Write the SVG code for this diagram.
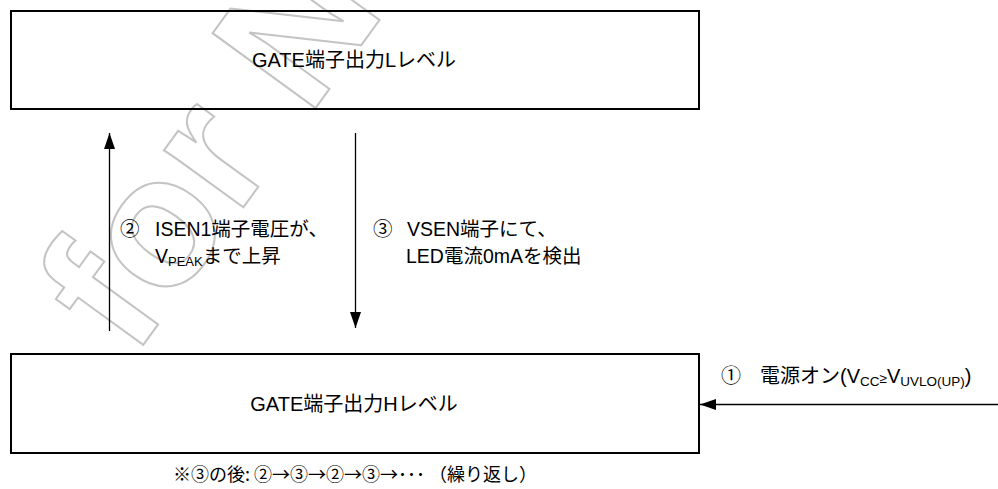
<svg xmlns="http://www.w3.org/2000/svg" width="998" height="489" viewBox="0 0 998 489">
<style>
.bg{fill:#ffffff}
.wm{font-family:"Liberation Sans",Arial,sans-serif;font-weight:bold;font-size:185px;fill:none;stroke:#c4c4c4;stroke-width:2px}
.box{fill:none;stroke:#000;stroke-width:2px}
.t{font-family:"Liberation Sans","Noto Sans CJK JP",sans-serif;font-size:19.5px;fill:#000}
.c{text-anchor:middle}
.big{font-size:20px}
.fn{font-family:"Noto Sans CJK JP","Liberation Sans",sans-serif;font-size:18px}
.wire{stroke:#000;stroke-width:1.3px;fill:none}
</style>
<defs>
<marker id="ah" markerUnits="userSpaceOnUse" markerWidth="16" markerHeight="11" viewBox="0 0 16 11" refX="16" refY="5.5" orient="auto">
<path d="M0,0 L16,5.5 L0,11 z" fill="#000"/>
</marker>
</defs>
<rect class="bg" x="0" y="0" width="998" height="489"/>
<g id="watermark">
<text class="wm" transform="translate(133,359) rotate(-54)">for New</text>
</g>
<g id="connectors">
<line class="wire" x1="109.5" y1="331" x2="109.5" y2="133" marker-end="url(#ah)"/>
<line class="wire" x1="355.5" y1="133" x2="355.5" y2="328" marker-end="url(#ah)"/>
<line class="wire" x1="998" y1="404.5" x2="700" y2="404.5" marker-end="url(#ah)"/>
</g>
<g id="node-low">
<rect class="box" x="11" y="11" width="688" height="98"/>
<text class="t big c" x="354" y="67">GATE端子出力Lレベル</text>
</g>
<g id="node-high">
<rect class="box" x="11" y="354" width="688" height="99"/>
<text class="t big c" x="354" y="411">GATE端子出力Hレベル</text>
</g>
<g id="label-2">
<text class="t" x="120" y="236">②</text>
<text class="t" x="155" y="236">ISEN1端子電圧が、</text>
<text class="t" x="155" y="263">V<tspan font-size="13" dy="3">PEAK</tspan><tspan dy="-3">まで上昇</tspan></text>
</g>
<g id="label-3">
<text class="t" x="373" y="236">③</text>
<text class="t" x="407" y="236">VSEN端子にて、</text>
<text class="t" x="406" y="263">LED電流0mAを検出</text>
</g>
<g id="label-1">
<text class="t big" x="721" y="383">①</text>
<text class="t big" x="760" y="383">電源オン(V<tspan font-size="13.5" dy="3">CC</tspan><tspan font-size="13.5" dy="-3">≥</tspan>V<tspan font-size="13.5" dy="3">UVLO(UP)</tspan><tspan dy="-3">)</tspan></text>
</g>
<g id="note">
<text class="t fn" x="173" y="481">※③の後: ②→③→②→③→･･･ （繰り返し）</text>
</g>
</svg>
